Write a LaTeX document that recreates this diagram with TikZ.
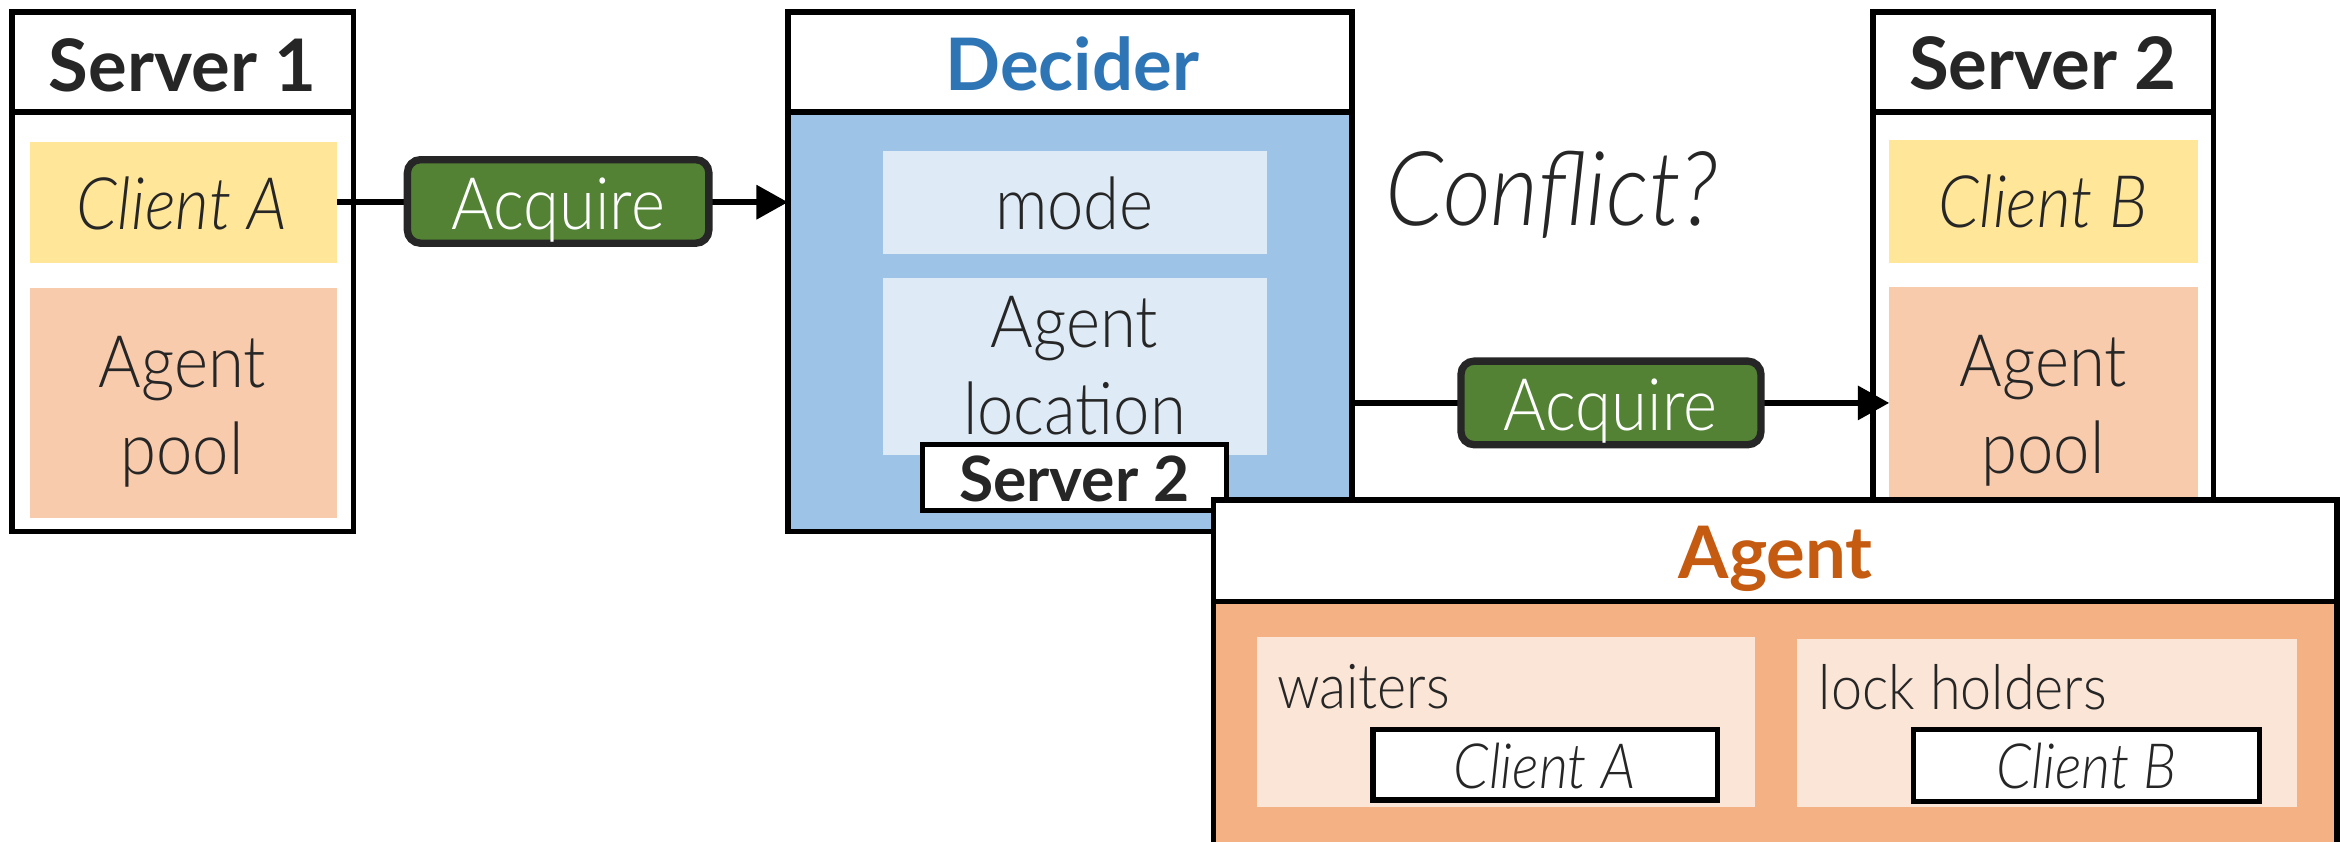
\documentclass[tikz,border=0pt]{standalone}
\usepackage{fontspec}
\setmainfont{Lato}
\newfontfamily\lightfont{Lato Light}[FakeStretch=0.9]
\usetikzlibrary{fit,arrows.meta}

\definecolor{ink}{HTML}{262626}
\definecolor{clientyel}{HTML}{FFE699}
\definecolor{poolpeach}{HTML}{F8CBAD}
\definecolor{acqgreen}{HTML}{548235}
\definecolor{decblue}{HTML}{2E75B6}
\definecolor{decbody}{HTML}{9DC3E6}
\definecolor{decfield}{HTML}{DEEBF7}
\definecolor{agorange}{HTML}{C55A11}
\definecolor{agbody}{HTML}{F4B183}
\definecolor{agfield}{HTML}{FBE5D6}

\tikzset{
  frame/.style={draw=black, line width=1pt, inner sep=0pt, outer sep=0pt},
  panel/.style={draw=none, inner sep=0pt, outer sep=0pt},
  title/.style={font=\bfseries\fontsize{13.8}{16.6}\selectfont, text=ink, inner sep=0pt, anchor=base},
  tagtitle/.style={font=\bfseries\fontsize{11.9}{14}\selectfont, text=ink, inner sep=0pt, anchor=base},
  plain/.style={font=\lightfont\fontsize{13.8}{16.6}\selectfont, text=ink, inner sep=0pt, align=center},
  client/.style={font=\lightfont\itshape\fontsize{13.8}{16.6}\selectfont, text=ink, inner sep=0pt, anchor=base},
  smallclient/.style={font=\lightfont\itshape\fontsize{11.9}{14}\selectfont, text=ink, inner sep=0pt, anchor=base},
  listlabel/.style={font=\lightfont\fontsize{11.8}{14}\selectfont, text=ink, inner sep=0pt, anchor=base west},
  acqbox/.style={draw=ink, line width=1.4pt, fill=acqgreen, rounded corners=2.5pt, inner sep=0pt, outer sep=0pt},
  acqtext/.style={font=\lightfont\fontsize{13.8}{16.6}\selectfont, text=white, inner sep=0pt, anchor=base},
  flow/.style={line width=1.2pt, -{Triangle[length=6pt,width=6.3pt]}},
}

\begin{document}
\begin{tikzpicture}[x=0.01cm, y=-0.01cm]
\path[use as bounding box, clip] (0,0) rectangle (1568,564);

% ---- Server 1 ----
\node[frame, fill=white, fit={(8,8)(237,356)}] (s1) {};
\node[frame, fill=white, fit={(8,8)(237,75)}] (s1head) {};
\node[title] (s1title) at (122.5,61) {Server 1};
\node[panel, fill=clientyel, fit={(20,95)(226,176)}] (clientA) {};
\node[client] (clientAtext) at (122,153.5) {Client A};
\node[panel, fill=poolpeach, fit={(20,193)(226,347)}] (s1pool) {};
\node[plain] (s1pooltext) at (122,276) {Agent\\pool};

% ---- Decider ----
\node[frame, fill=decbody, fit={(528,8)(906,356)}] (decider) {};
\node[frame, fill=white, fit={(528,8)(906,75)}] (dechead) {};
\node[title, text=decblue] (dectitle) at (718.5,60.5) {Decider};
\node[panel, fill=decfield, fit={(592,101)(849,170)}] (mode) {};
\node[plain, anchor=base] (modetext) at (720,153.5) {mode};
\node[panel, fill=decfield, fit={(592,186)(849,305)}] (loc) {};
\node[plain] (loctext) at (720,245) {Agent\\location};
\node[frame, fill=white, fit={(618,298)(822,342)}] (loctag) {};
\node[tagtitle] (loctagtext) at (720,336) {Server 2};

% ---- Server 2 ----
\node[frame, fill=white, fit={(1255,8)(1483,360)}] (s2) {};
\node[frame, fill=white, fit={(1255,8)(1483,75)}] (s2head) {};
\node[title] (s2title) at (1369,60) {Server 2};
\node[panel, fill=clientyel, fit={(1266,94)(1473,176)}] (clientB) {};
\node[client] (clientBtext) at (1369,152.5) {Client B};
\node[panel, fill=poolpeach, fit={(1266,192)(1473,360)}] (s2pool) {};
\node[plain] (s2pooltext) at (1369,275.5) {Agent\\pool};

% ---- Requests ----
\node[panel, fit={(273,107)(475,163)}] (acq1) {};
\node[panel, fit={(979,242)(1180,298)}] (acq2) {};
\draw[flow] (clientA.east) -- (clientA.east -| decider.west);
\draw[flow] (acq2.center -| decider.east) -- (acq2.center -| s2pool.west);
\node[acqbox, fit={(273,107)(475,163)}] (acq1top) {};
\node[acqtext] (acq1text) at (374,153.5) {Acquire};
\node[acqbox, fit={(979,242)(1180,298)}] (acq2top) {};
\node[acqtext] (acq2text) at (1079,288.6) {Acquire};

\node[font=\lightfont\itshape\fontsize{19.7}{23}\selectfont, text=ink, inner sep=0pt, anchor=base] (conflict) at (1040,151) {Conflict?};

% ---- Agent ----
\node[frame, fill=agbody, fit={(813,335)(1566,620)}] (agent) {};
\node[frame, fill=white, fit={(813,335)(1566,403)}] (agenthead) {};
\node[title, text=agorange] (agenttitle) at (1190,387.6) {Agent};
\node[panel, fill=agfield, fit={(842,427)(1176,541)}] (waiters) {};
\node[listlabel] (waiterstext) at (855,475) {waiters};
\node[frame, fill=white, fit={(920,489)(1151,536)}] (waitA) {};
\node[smallclient] (waitAtext) at (1035,528.4) {Client A};
\node[panel, fill=agfield, fit={(1204,428)(1539,541)}] (holders) {};
\node[listlabel] (holderstext) at (1218,475.5) {lock holders};
\node[frame, fill=white, fit={(1282,489)(1514,537)}] (holdB) {};
\node[smallclient] (holdBtext) at (1398,528.4) {Client B};
\end{tikzpicture}
\end{document}
